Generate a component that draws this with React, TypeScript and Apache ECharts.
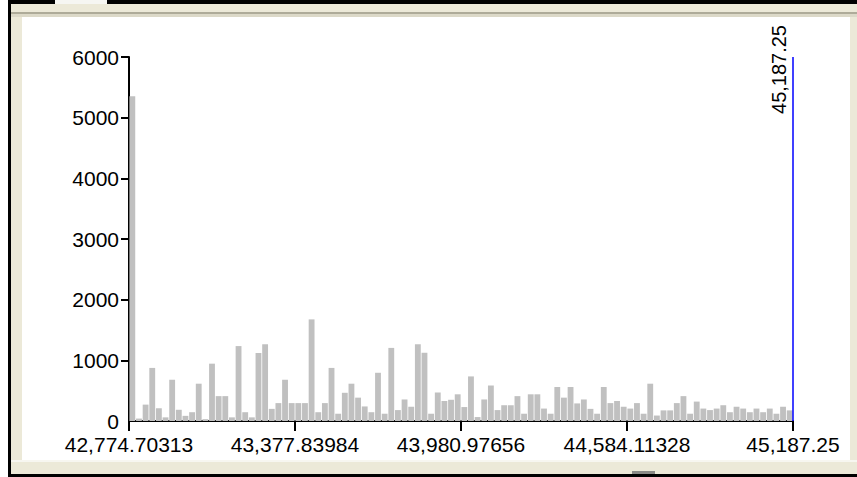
import React, { useEffect, useRef } from "react";
import * as echarts from "echarts";

// Histogram counts, one per bin, left to right
const binCounts = [
  5355, 40, 270, 875, 210, 60, 680, 185, 85, 145,
  615, 30, 945, 410, 410, 60, 1235, 145, 60, 1120,
  1265, 200, 295, 680, 295, 295, 295, 1675, 145, 295,
  875, 120, 465, 615, 385, 240, 145, 795, 120, 1205,
  180, 355, 235, 1265, 1125, 120, 470, 330, 350, 440,
  230, 735, 65, 355, 585, 180, 260, 260, 410, 120,
  440, 440, 205, 120, 560, 385, 560, 290, 355, 200,
  120, 560, 295, 330, 235, 205, 295, 120, 615, 90,
  175, 175, 295, 410, 120, 320, 205, 180, 205, 260,
  145, 235, 205, 145, 205, 145, 205, 120, 235, 175,
];
const binIndex = binCounts.map((_, i) => String(i));

// Tick labels along the bottom (range boundaries)
const xTickLabels = [
  "42,774.70313",
  "43,377.83984",
  "43,980.97656",
  "44,584.11328",
  "45,187.25",
];
const yTickValues = [0, 1000, 2000, 3000, 4000, 5000, 6000];
const markerLabel = "45,187.25";

const FONT = "'Liberation Sans', Arial, Helvetica, sans-serif";

function Chrome() {
  const abs = (s: React.CSSProperties): React.CSSProperties => ({ position: "absolute", ...s });
  return (
    <>
      {/* top bar */}
      <div style={abs({ left: 8, top: 0, width: 849, height: 4, background: "#000" })} />
      <div style={abs({ left: 55, top: 0, width: 52, height: 5, background: "#f6f6f2" })} />
      <div style={abs({ left: 11, top: 4, width: 846, height: 8, background: "#ece9d8" })} />
      <div style={abs({ left: 11, top: 12, width: 846, height: 2, background: "#aeab99" })} />
      <div style={abs({ left: 11, top: 14, width: 846, height: 3, background: "#dcd9c8" })} />
      {/* left border */}
      <div style={abs({ left: 8, top: 0, width: 3, height: 477, background: "#000" })} />
      <div style={abs({ left: 11, top: 17, width: 11, height: 457, background: "#ece9d8" })} />
      {/* right border */}
      <div style={abs({ left: 850, top: 17, width: 7, height: 457, background: "#ece9d8" })} />
      {/* bottom */}
      <div style={abs({ left: 11, top: 460, width: 846, height: 2, background: "#f7f6f0" })} />
      <div style={abs({ left: 11, top: 462, width: 846, height: 12, background: "#ece9d8" })} />
      <div style={abs({ left: 632, top: 471, width: 23, height: 3, background: "#8a8a86" })} />
      <div style={abs({ left: 8, top: 474, width: 849, height: 3, background: "#000" })} />
    </>
  );
}

export default function App() {
  const ref = useRef<HTMLDivElement>(null);

  useEffect(() => {
    if (!ref.current) return;
    const chart = echarts.init(ref.current, null, { renderer: "svg" });
    const binCount = binCounts.length;
    const tickStep = binCount / (xTickLabels.length - 1);
    const axisColor = "#000";

    chart.setOption({
      animation: false,
      textStyle: { fontFamily: FONT },
      grid: { left: 129, right: 64, top: 57, bottom: 56, containLabel: false },
      xAxis: [
        {
          type: "category",
          data: binIndex,
          position: "top",
          show: false,
          boundaryGap: true,
        },
        {
          type: "value",
          position: "bottom",
          min: 0,
          max: binCount,
          interval: tickStep,
          axisLine: { show: true, onZero: false, lineStyle: { color: axisColor, width: 2 } },
          axisTick: { show: true, length: 10, lineStyle: { color: axisColor, width: 2 } },
          axisLabel: {
            color: "#000",
            fontSize: 21,
            fontFamily: FONT,
            margin: 13,
            formatter: (v: number) => xTickLabels[Math.round(v / tickStep)] ?? "",
          },
          splitLine: { show: false },
        },
      ],
      yAxis: {
        type: "value",
        min: yTickValues[0],
        max: yTickValues[yTickValues.length - 1],
        interval: 1000,
        axisLine: { show: true, onZero: false, lineStyle: { color: axisColor, width: 2 } },
        axisTick: {
          show: true,
          length: 8,
          customValues: yTickValues.slice(1),
          lineStyle: { color: axisColor, width: 2 },
        },
        axisLabel: {
          color: "#000",
          fontSize: 21,
          fontFamily: FONT,
          margin: 10,
          formatter: (v: number) => String(v),
        },
        splitLine: { show: false },
      },
      series: [
        {
          type: "bar",
          xAxisIndex: 0,
          data: binCounts,
          barCategoryGap: "12%",
          itemStyle: { color: "#c0c0c0" },
          silent: true,
        },
        {
          type: "line",
          xAxisIndex: 1,
          data: [[binCount, 0]],
          showSymbol: false,
          symbol: "none",
          lineStyle: { opacity: 0 },
          silent: true,
          markLine: {
            symbol: "none",
            silent: true,
            lineStyle: { color: "#0000ff", width: 1.5, type: "solid" },
            label: {
              show: true,
              position: "insideEndTop",
              distance: [-32, 4],
              formatter: markerLabel,
              fontSize: 20,
              fontFamily: FONT,
              color: "#000",
            },
            data: [{ xAxis: binCount }],
          },
        },
      ],
    });

    return () => chart.dispose();
  }, []);

  return (
    <div style={{ position: "absolute", left: 0, top: 0, width: 857, height: 477, background: "#fff", overflow: "hidden" }}>
      <Chrome />
      <div ref={ref} style={{ position: "absolute", left: 0, top: 0, width: 857, height: 477 }} />
    </div>
  );
}
